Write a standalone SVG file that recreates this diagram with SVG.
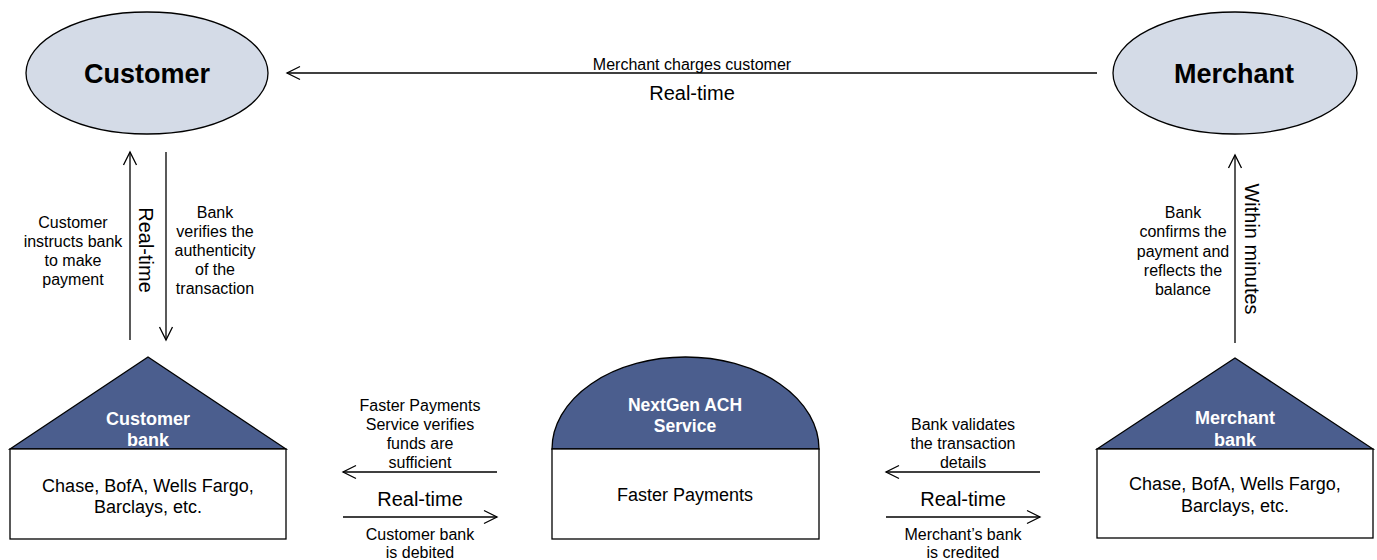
<svg xmlns="http://www.w3.org/2000/svg" width="1377" height="560" viewBox="0 0 1377 560">
<style>
text{font-family:"Liberation Sans",Arial,sans-serif;fill:#000;text-anchor:middle}
.lbl{font-size:16px}
.rt{font-size:20px}
.big{font-size:27px;font-weight:bold}
.hd{font-size:18px;font-weight:bold;fill:#fff}
.bx{font-size:18px}
.ell{fill:#D4DBE7;stroke:#000;stroke-width:1.3}
.roof{fill:#4B5E8E;stroke:#000;stroke-width:1.3}
.box{fill:#fff;stroke:#000;stroke-width:1.3}
.ar{fill:none;stroke:#000;stroke-width:1.3;marker-end:url(#oh)}
</style>
<defs>
<marker id="oh" viewBox="0 0 16 16" refX="14" refY="8" markerWidth="16" markerHeight="16" markerUnits="userSpaceOnUse" orient="auto">
<path d="M1,1.5 L14,8 L1,14.5" fill="none" stroke="#000" stroke-width="1.3"/>
</marker>
</defs>
<g id="customer">
<ellipse class="ell" cx="147" cy="73" rx="121" ry="61"/>
<text class="big" x="147" y="83">Customer</text>
</g>
<g id="merchant">
<ellipse class="ell" cx="1235" cy="73" rx="122" ry="61"/>
<text class="big" x="1234" y="83">Merchant</text>
</g>
<g id="customer-bank">
<polygon class="roof" points="10,449 148,357 286,449"/>
<rect class="box" x="10" y="449" width="276" height="90"/>
<text class="hd" x="148" y="425">Customer</text>
<text class="hd" x="148" y="446">bank</text>
<text class="bx" x="148" y="492">Chase, BofA, Wells Fargo,</text>
<text class="bx" x="148" y="513">Barclays, etc.</text>
</g>
<g id="nextgen">
<path class="roof" d="M552,449 A133.5,92 0 0 1 819,449 Z"/>
<rect class="box" x="552" y="449" width="267" height="90"/>
<text class="hd" x="685" y="411" style="font-size:17.5px">NextGen ACH</text>
<text class="hd" x="685" y="432" style="font-size:17.5px">Service</text>
<text class="bx" x="685" y="501">Faster Payments</text>
</g>
<g id="merchant-bank">
<polygon class="roof" points="1097,449 1235,358 1373,449"/>
<rect class="box" x="1097" y="449" width="276" height="89"/>
<text class="hd" x="1235" y="424">Merchant</text>
<text class="hd" x="1235" y="446">bank</text>
<text class="bx" x="1235" y="490">Chase, BofA, Wells Fargo,</text>
<text class="bx" x="1235" y="512">Barclays, etc.</text>
</g>
<g id="connectors">
<line class="ar" x1="1097" y1="73" x2="287" y2="73"/>
<line class="ar" x1="130" y1="340" x2="130" y2="152"/>
<line class="ar" x1="166" y1="152" x2="166" y2="340"/>
<line class="ar" x1="1235" y1="343" x2="1235" y2="155"/>
<line class="ar" x1="497" y1="472" x2="343" y2="472"/>
<line class="ar" x1="343" y1="517" x2="497" y2="517"/>
<line class="ar" x1="1040" y1="472" x2="886" y2="472"/>
<line class="ar" x1="886" y1="517" x2="1040" y2="517"/>
</g>
<g id="labels">
<text class="lbl" x="692" y="70">Merchant charges customer</text>
<text class="rt" x="692" y="100">Real-time</text>
<text class="lbl" x="73" y="228">Customer</text>
<text class="lbl" x="73" y="247">instructs bank</text>
<text class="lbl" x="73" y="266">to make</text>
<text class="lbl" x="73" y="285">payment</text>
<text class="rt" transform="translate(139,250) rotate(90)" x="0" y="0">Real-time</text>
<text class="lbl" x="215" y="218">Bank</text>
<text class="lbl" x="215" y="237">verifies the</text>
<text class="lbl" x="215" y="256">authenticity</text>
<text class="lbl" x="215" y="275">of the</text>
<text class="lbl" x="215" y="294">transaction</text>
<text class="lbl" x="1183" y="218">Bank</text>
<text class="lbl" x="1183" y="237">confirms the</text>
<text class="lbl" x="1183" y="257">payment and</text>
<text class="lbl" x="1183" y="276">reflects the</text>
<text class="lbl" x="1183" y="295">balance</text>
<text class="rt" transform="translate(1245,249) rotate(90)" x="0" y="0">Within minutes</text>
<text class="lbl" x="420" y="411">Faster Payments</text>
<text class="lbl" x="420" y="430">Service verifies</text>
<text class="lbl" x="420" y="449">funds are</text>
<text class="lbl" x="420" y="468">sufficient</text>
<text class="rt" x="420" y="506">Real-time</text>
<text class="lbl" x="420" y="540">Customer bank</text>
<text class="lbl" x="420" y="558">is debited</text>
<text class="lbl" x="963" y="430">Bank validates</text>
<text class="lbl" x="963" y="449">the transaction</text>
<text class="lbl" x="963" y="468">details</text>
<text class="rt" x="963" y="506">Real-time</text>
<text class="lbl" x="963" y="540">Merchant’s bank</text>
<text class="lbl" x="963" y="558">is credited</text>
</g>
</svg>
